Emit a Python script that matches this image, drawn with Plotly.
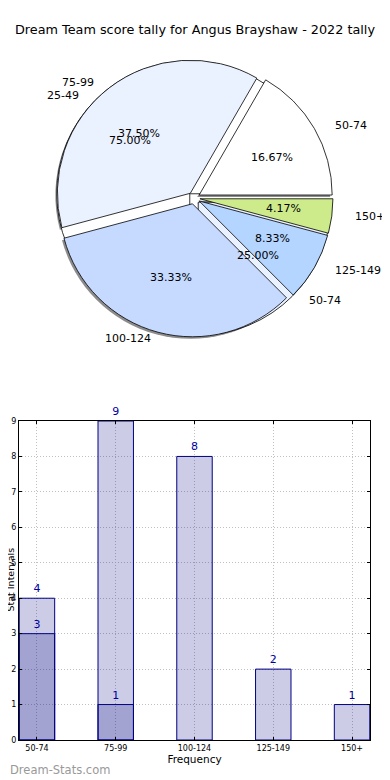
import math
import plotly.graph_objects as go

# ---------------- data ----------------
title_text = "Dream Team score tally for Angus Brayshaw - 2022 tally"
categories = ["50-74", "75-99", "100-124", "125-149", "150+"]
values = [4, 9, 8, 2, 1]
categories2 = ["25-49", "50-74"]
values2 = [3, 1]

# ---------------- styles / layout ----------------
pie_colors = ["#ffffff", "#eaf1ff", "#c6daff", "#b4d5ff", "#cdeb8b"]
pie2_colors = ["#ffffff", "#eaf1ff"]
FONT = "DejaVu Sans"
OFF = 8                    # page body margin of the browser
W, H = 390 - OFF, 780 - OFF
CX, CY = 194, 198          # pie centre (window px)
RX, RY = 140, 127          # label ellipse radii (px)
R = 133                    # pie radius (px)
PULL = 0.045


def fx(x):
    return (x - OFF) / W


def fy(y):
    return 1 - (y - OFF) / H


def start_rotation(vals):
    # first slice starts at 3 o'clock and runs counter-clockwise
    return 90 - 360.0 * vals[0] / sum(vals)


def dom(dx=0.0, dy=0.0):
    half = R * (1 + PULL)
    return dict(x=[fx(CX - half + dx), fx(CX + half + dx)],
                y=[fy(CY + half + dy), fy(CY - half + dy)])


fig = go.Figure()

common = dict(sort=False, direction="counterclockwise",
              textinfo="none", hoverinfo="skip", showlegend=False)

# shadow
fig.add_trace(go.Pie(values=values, labels=categories, pull=PULL, domain=dom(-2, 2),
                     rotation=start_rotation(values),
                     marker=dict(colors=["rgba(0,0,0,0.45)"] * len(values),
                                 line=dict(width=0)), **common))
# second (underneath) pie
fig.add_trace(go.Pie(values=values2, labels=categories2, pull=PULL, domain=dom(),
                     rotation=start_rotation(values2),
                     marker=dict(colors=pie2_colors, line=dict(color="#000000", width=0.8)),
                     **common))
# main pie
fig.add_trace(go.Pie(values=values, labels=categories, pull=PULL, domain=dom(),
                     rotation=start_rotation(values),
                     marker=dict(colors=pie_colors, line=dict(color="#000000", width=0.8)),
                     **common))

annotations = []


def pie_labels(vals, labs):
    total = sum(vals)
    cum = 0
    for v, lab in zip(vals, labs):
        mid = math.radians(360.0 * (cum + v / 2) / total)
        cum += v
        c, s = math.cos(mid), math.sin(mid)
        lx = CX + (1.1 + PULL) * RX * c
        ly = CY - (1.1 + PULL) * RY * s
        annotations.append(dict(x=fx(lx), y=fy(ly), xref="paper", yref="paper",
                                text=lab, showarrow=False,
                                xanchor="left" if c > 0 else "right", yanchor="middle",
                                font=dict(family=FONT, size=11, color="#000000")))
        px = CX + (0.6 + PULL) * RX * c
        py = CY - (0.6 + PULL) * RY * s
        annotations.append(dict(x=fx(px), y=fy(py), xref="paper", yref="paper",
                                text="%.2f%%" % (100.0 * v / total), showarrow=False,
                                xanchor="center", yanchor="middle",
                                font=dict(family=FONT, size=11, color="#000000")))


pie_labels(values, categories)
pie_labels(values2, categories2)

# ---------------- bars ----------------
bar_fill = "rgba(0,0,128,0.2)"
bar_line = "#000080"
txt_col = "#0000a0"
fig.add_trace(go.Bar(x=list(range(len(values))), y=values, width=0.45,
                     marker=dict(color=bar_fill, line=dict(color=bar_line, width=1)),
                     text=[str(v) for v in values], textposition="outside",
                     textfont=dict(family=FONT, size=11, color=txt_col),
                     cliponaxis=False, hoverinfo="skip", showlegend=False))
fig.add_trace(go.Bar(x=list(range(len(values2))), y=values2, width=0.45,
                     marker=dict(color=bar_fill, line=dict(color=bar_line, width=1)),
                     text=[str(v) for v in values2], textposition="outside",
                     textfont=dict(family=FONT, size=11, color=txt_col),
                     cliponaxis=False, hoverinfo="skip", showlegend=False))

annotations.append(dict(x=0, y=fy(770), xref="paper", yref="paper",
                        text="Dream-Stats.com", showarrow=False,
                        xanchor="left", yanchor="middle",
                        font=dict(family=FONT, size=11.5, color="#999999")))

# y-axis title (partly cut at the left edge, as in the reference)
annotations.append(dict(x=fx(9.5), y=fy(580), xref="paper", yref="paper",
                        text="Stat Intervals", showarrow=False, textangle=-90,
                        xanchor="center", yanchor="middle",
                        font=dict(family=FONT, size=9.5, color="#000000")))

axis_common = dict(showline=True, linecolor="#000000", linewidth=1, mirror="ticks",
                   ticks="inside", ticklen=3, tickcolor="#000000", automargin=False,
                   showgrid=True, gridcolor="#c0c0c0", griddash="1px,2px", gridwidth=1,
                   zeroline=False, tickfont=dict(family=FONT, size=8, color="#000000"))

fig.update_layout(
    width=W, height=H,
    margin=dict(l=0, r=0, t=0, b=0),
    paper_bgcolor="#ffffff", plot_bgcolor="#ffffff",
    barmode="overlay",
    font=dict(family=FONT, color="#000000"),
    title=dict(text=title_text, x=fx(195), xanchor="center", y=fy(30), yanchor="middle",
               font=dict(family=FONT, size=12.8, color="#000000")),
    xaxis=dict(domain=[fx(19), fx(370)], range=[-0.228, 4.228],
               tickmode="array", tickvals=list(range(len(categories))), ticktext=categories,
               title=dict(text="Frequency", font=dict(family=FONT, size=10.5), standoff=4),
               **axis_common),
    yaxis=dict(domain=[fy(740), fy(421)], range=[0, 9], dtick=1,
               **axis_common),
    annotations=annotations,
)

fig.write_html("out.html")
